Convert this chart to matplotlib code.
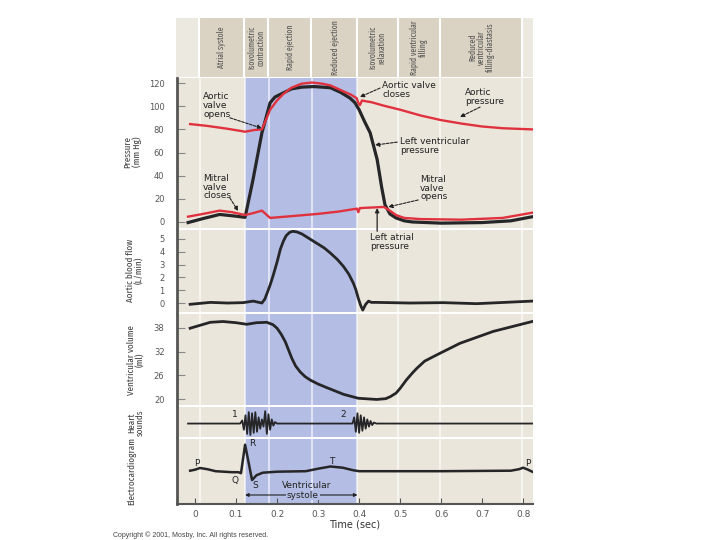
import matplotlib.pyplot as plt
from matplotlib import font_manager
from matplotlib.patches import FancyArrowPatch, ConnectionPatch

# ---- data ----
# time axis (sec)
t_lim = (-0.044, 0.824)
phase_edges = [0.012, 0.122, 0.18, 0.285, 0.396, 0.495, 0.598, 0.798]
phase_names = ['Atrial systole', 'Isovolumetric\ncontraction', 'Rapid ejection',
               'Reduced ejection', 'Isovolumetric\nrelaxation',
               'Rapid ventricular\nfilling', 'Reduced\nventricular\nfilling-diastasis']
systole = (0.122, 0.396)

# pressures (mm Hg)
aortic_t = [-0.012, 0.03, 0.08, 0.122, 0.145, 0.163, 0.175, 0.183, 0.2, 0.215, 0.235,
            0.26, 0.285, 0.31, 0.33, 0.355, 0.38, 0.394, 0.398, 0.402, 0.407, 0.413,
            0.43, 0.46, 0.5, 0.55, 0.6, 0.65, 0.7, 0.75, 0.822]
aortic_p = [84.6, 83, 80.5, 78, 79.5, 80, 90, 97, 105, 110.5, 116,
            119.5, 120.5, 119.5, 118, 114, 110, 107, 103, 101, 105, 104.5,
            103.5, 100.5, 97, 92, 88, 85, 82.5, 81, 80]
lv_t = [-0.017, 0.02, 0.06, 0.1, 0.122, 0.141, 0.163, 0.183, 0.195, 0.215, 0.235,
        0.26, 0.29, 0.33, 0.355, 0.378, 0.39, 0.4, 0.413, 0.427, 0.444, 0.455,
        0.463, 0.475, 0.49, 0.51, 0.53, 0.6, 0.7, 0.77, 0.822]
lv_p = [-0.5, 3, 6.5, 5, 4, 36, 77, 103, 108, 111.5, 115,
        116.5, 117, 116, 112, 107, 103, 97, 87, 77, 54, 30,
        15, 7, 3.5, 1, 0, -1, -0.5, 1, 4.5]
la_t = [-0.017, 0.02, 0.06, 0.09, 0.122, 0.14, 0.163, 0.172, 0.183, 0.2, 0.25,
        0.3, 0.35, 0.385, 0.395, 0.398, 0.402, 0.43, 0.46, 0.47, 0.49, 0.51,
        0.55, 0.65, 0.75, 0.822]
la_p = [4.6, 7, 9.8, 8.5, 6, 7.5, 9.8, 7, 3.5, 4, 5.5,
        7, 9, 11, 11.5, 8.5, 12, 12.5, 13, 11, 6, 3.5,
        2.5, 2, 3.5, 8]

# aortic blood flow (L/min)
flow_t = [-0.012, 0.037, 0.08, 0.117, 0.142, 0.163, 0.17, 0.176, 0.183, 0.19, 0.2,
          0.208, 0.215, 0.222, 0.23, 0.238, 0.248, 0.26, 0.28, 0.297, 0.315, 0.33,
          0.347, 0.362, 0.375, 0.386, 0.392, 0.398, 0.404, 0.409, 0.416, 0.423,
          0.43, 0.443, 0.524, 0.605, 0.687, 0.822]
flow_v = [-0.1, 0.05, 0.0, 0.03, 0.15, 0.0, 0.3, 0.8, 1.4, 2.1, 3.2,
          4.2, 4.8, 5.25, 5.5, 5.6, 5.55, 5.4, 5.0, 4.66, 4.3, 3.9,
          3.4, 2.85, 2.25, 1.55, 1.05, 0.37, -0.2, -0.55, -0.1, 0.15,
          0.05, 0.05, 0.0, 0.03, -0.05, 0.15]

# ventricular volume (ml)
vol_t = [-0.012, 0.037, 0.068, 0.1, 0.126, 0.15, 0.175, 0.19, 0.2, 0.21, 0.22,
         0.228, 0.236, 0.245, 0.256, 0.268, 0.281, 0.3, 0.321, 0.362, 0.398, 0.443,
         0.465, 0.476, 0.49, 0.5, 0.515, 0.53, 0.541, 0.56, 0.59, 0.646, 0.727, 0.822]
vol_v = [37.9, 39.4, 39.6, 39.3, 38.9, 39.3, 39.4, 38.8, 37.9, 36.4, 34.5,
         32.4, 30.3, 28.4, 26.9, 25.7, 24.8, 23.8, 22.9, 21.2, 20.2, 19.9,
         20.1, 20.6, 21.5, 22.7, 24.8, 26.6, 27.8, 29.6, 31.2, 34.1, 37.1, 39.6]

# heart sounds (arbitrary units)
sound_t = [-0.017, 0.110, 0.115, 0.119, 0.123, 0.127, 0.131, 0.135, 0.139, 0.143,
           0.147, 0.151, 0.155, 0.159, 0.163, 0.167, 0.171, 0.175, 0.179, 0.183,
           0.187, 0.191, 0.195, 0.200, 0.206, 0.384, 0.388, 0.392, 0.396, 0.400,
           0.404, 0.408, 0.412, 0.416, 0.420, 0.424, 0.428, 0.432, 0.436, 0.442,
           0.822]
sound_v = [0, 0, 0.3, -0.6, 0.8, -1.0, 1.1, -1.1, 1.0, -0.9,
           1.1, -0.8, 0.6, -0.5, 0.4, -0.3, 1.2, -1.0, 0.9, -0.6,
           0.4, -0.2, 0.15, 0, 0, 0, 0.6, -0.8, 1.0, -0.9,
           0.8, -0.7, 0.6, -0.5, 0.4, -0.3, 0.25, -0.15, 0.1, 0,
           0]

# electrocardiogram (arbitrary units)
ecg_t = [-0.012, 0.0, 0.012, 0.03, 0.05, 0.09, 0.106, 0.112, 0.122, 0.139, 0.15,
         0.165, 0.2, 0.27, 0.3, 0.33, 0.36, 0.385, 0.4, 0.6, 0.77, 0.79, 0.8,
         0.812, 0.822]
ecg_v = [0, 0.1, 0.27, 0.15, -0.05, -0.15, -0.15, -0.25, 2.6, -0.93, -0.45,
         -0.2, -0.1, -0.05, 0.2, 0.42, 0.3, 0.05, -0.05, -0.05, 0, 0.15, 0.3,
         0.1, -0.1]

# ---- colours / fonts ----
BEIGE = '#ebe6db'
HEAD = '#dad2c2'
BLUE = '#b4bee4'
RED = '#e0323e'
DARK = '#262628'
GREY = '#555555'

names = {f.name for f in font_manager.fontManager.ttflist}
if 'Fira Sans Extra Condensed' in names:
    NARROW = dict(family=['Fira Sans Extra Condensed', 'DejaVu Sans'])
else:
    NARROW = dict(family=['DejaVu Sans'], fontstretch='condensed')

fig = plt.figure(figsize=(7.2, 5.4), dpi=100)
fig.patch.set_facecolor('white')


def panel(top, bottom):
    ax = fig.add_axes([177 / 720, 1 - bottom / 540, 356 / 720, (bottom - top) / 540])
    ax.set_facecolor(BEIGE)
    ax.set_xlim(*t_lim)
    for s in ['top', 'right', 'bottom']:
        ax.spines[s].set_visible(False)
    ax.spines['left'].set_color(GREY)
    ax.spines['left'].set_linewidth(2)
    ax.set_xticks([])
    ax.tick_params(axis='y', direction='in', length=6, width=0.8, color='#888888',
                   labelsize=6, labelcolor=GREY, pad=9)
    for e in phase_edges:
        ax.axvline(e, color='white', lw=1.1, alpha=0.75, zorder=1)
    ax.axvspan(*systole, color=BLUE, lw=0, zorder=0.5)
    return ax


def arrow(ax, start, end, dashed=True):
    ax.add_patch(FancyArrowPatch(start, end, arrowstyle='-|>', mutation_scale=6,
                                 lw=0.8, color='#222222', shrinkA=0, shrinkB=0,
                                 ls=(0, (2.5, 1.2)) if dashed else '-', zorder=5))


# header with the cardiac phases
axh = fig.add_axes([176 / 720, 1 - 77 / 540, 357 / 720, 59 / 540])
axh.set_xlim(*t_lim)
axh.set_ylim(0, 1)
axh.axis('off')
axh.axvspan(t_lim[0], t_lim[1], color='#ece9e1', lw=0, zorder=0)
for i, name in enumerate(phase_names):
    a, b = phase_edges[i], phase_edges[i + 1]
    axh.axvspan(a, b, color=HEAD, lw=0, zorder=1)
    axh.text((a + b) / 2, 0.5, name, rotation=90, ha='center', va='center',
             multialignment='center', fontsize=6, color=GREY,
             linespacing=0.95, zorder=3, **NARROW)
for e in phase_edges:
    axh.axvline(e, color='white', lw=1.5, zorder=2)

# pressure
axp = panel(78, 228)
axp.set_ylim(-5.2, 124.4)
axp.set_yticks([0, 20, 40, 60, 80, 100, 120])
axp.plot(lv_t, lv_p, color=DARK, lw=2.3, zorder=3, solid_joinstyle='round')
axp.plot(aortic_t, aortic_p, color=RED, lw=1.7, zorder=4)
axp.plot(la_t, la_p, color=RED, lw=1.7, zorder=4)

note = dict(fontsize=6.5, color='#222222', va='top', ha='left', linespacing=0.95, zorder=5)
axp.text(0.0195, 112, 'Aortic\nvalve\nopens', **note)
arrow(axp, (0.085, 90), (0.163, 81))
axp.text(0.0195, 41.5, 'Mitral\nvalve\ncloses', **note)
arrow(axp, (0.085, 20.7), (0.105, 9.5))
axp.text(0.456, 121.8, 'Aortic valve\ncloses', **note)
arrow(axp, (0.451, 115.7), (0.402, 108))
axp.text(0.659, 115.7, 'Aortic\npressure', **note)
arrow(axp, (0.695, 99.3), (0.646, 90.7))
axp.text(0.5, 73.4, 'Left ventricular\npressure', **note)
arrow(axp, (0.493, 69), (0.439, 66.5))
axp.text(0.549, 40.6, 'Mitral\nvalve\nopens', **note)
arrow(axp, (0.544, 19), (0.471, 13))

# aortic blood flow
axf = panel(230, 312)
axf.set_ylim(-0.7, 5.7)
axf.set_yticks([0, 1, 2, 3, 4, 5])
axf.plot(flow_t, flow_v, color=DARK, lw=2.0, zorder=3)
axf.text(0.427, 5.47, 'Left atrial\npressure', **note)
con = ConnectionPatch(xyA=(0.444, 5.6), coordsA=axf.transData, xyB=(0.444, 12),
                      coordsB=axp.transData, arrowstyle='-|>', mutation_scale=6,
                      lw=0.9, color='#222222', shrinkA=0, shrinkB=0)
fig.add_artist(con)

# ventricular volume
axv = panel(314, 405)
axv.set_ylim(18.5, 41.5)
axv.set_yticks([20, 26, 32, 38])
axv.plot(vol_t, vol_v, color=DARK, lw=2.0, zorder=3)

# heart sounds
axs = panel(407, 437)
axs.set_ylim(-1.3, 1.6)
axs.set_yticks([])
axs.plot(sound_t, sound_v, color=DARK, lw=1.3, zorder=3)
axs.text(0.098, 0.9, '1', fontsize=6.5, color='#222222', ha='center', va='center')
axs.text(0.361, 0.9, '2', fontsize=6.5, color='#222222', ha='center', va='center')

# electrocardiogram
axe = panel(439, 504)
axe.set_ylim(-3.33, 3.17)
axe.set_yticks([])
axe.plot(ecg_t, ecg_v, color=DARK, lw=1.8, zorder=3)
axe.spines['bottom'].set_visible(True)
axe.spines['bottom'].set_color(GREY)
axe.spines['bottom'].set_linewidth(1.5)
axe.set_xticks([0, 0.1, 0.2, 0.3, 0.4, 0.5, 0.6, 0.7, 0.8])
axe.set_xticklabels(['0', '0.1', '0.2', '0.3', '0.4', '0.5', '0.6', '0.7', '0.8'])
axe.tick_params(axis='x', direction='in', length=4, width=0.8, color=GREY,
                labelsize=6.5, labelcolor=GREY, pad=4)
axe.set_xlabel('Time (sec)', fontsize=7, color='#333333', labelpad=1)
ecg_lab = dict(fontsize=6.5, color='#222222', ha='center', va='center', zorder=5)
axe.text(0.005, 0.77, 'P', **ecg_lab)
axe.text(0.098, -0.93, 'Q', **ecg_lab)
axe.text(0.139, 2.77, 'R', **ecg_lab)
axe.text(0.146, -1.43, 'S', **ecg_lab)
axe.text(0.334, 0.97, 'T', **ecg_lab)
axe.text(0.812, 0.77, 'P', **ecg_lab)
axe.text(0.271, -1.5, 'Ventricular', **ecg_lab)
axe.add_patch(FancyArrowPatch((systole[0], -2.43), (systole[1], -2.43), arrowstyle='<|-|>',
                              mutation_scale=5, lw=0.8, color='#222222', shrinkA=0, shrinkB=0))
axe.text(0.263, -2.43, 'systole', fontsize=6.5, color='#222222', ha='center',
         va='center', zorder=6, bbox=dict(facecolor=BLUE, edgecolor='none', pad=0.5))

# panel titles
ylab = dict(rotation=90, ha='center', va='center', multialignment='center',
            fontsize=7, color='#444444', linespacing=1.0)
fig.text(133 / 720, 1 - 152 / 540, 'Pressure\n(mm Hg)', **ylab, **NARROW)
fig.text(135 / 720, 1 - 270 / 540, 'Aortic blood flow\n(L/min)', **ylab, **NARROW)
fig.text(136 / 720, 1 - 360 / 540, 'Ventricular volume\n(ml)', **ylab, **NARROW)
fig.text(136 / 720, 1 - 423 / 540, 'Heart\nsounds', **ylab, **NARROW)
fig.text(132 / 720, 1 - 471 / 540, 'Electrocardiogram', **ylab, **NARROW)

fig.text(113 / 720, 1 - 535 / 540, 'Copyright \u00a9 2001, Mosby, Inc. All rights reserved.',
         fontsize=5, color='#444444', ha='left', va='center', family=['Liberation Sans', 'DejaVu Sans'])

fig.savefig('out.png', dpi=100)
